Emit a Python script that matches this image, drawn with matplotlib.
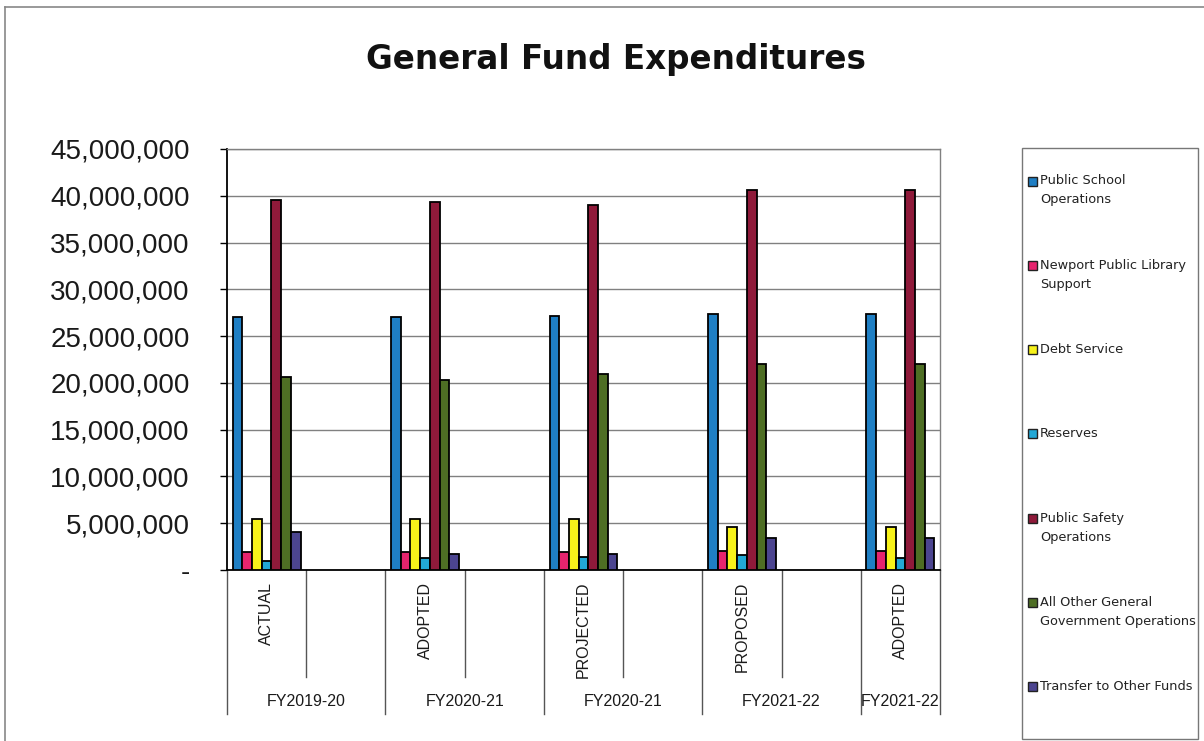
import numpy as np
import matplotlib.pyplot as plt
import matplotlib.transforms as mtransforms
from matplotlib.patches import Rectangle
from matplotlib.lines import Line2D
from matplotlib.ticker import FuncFormatter

# budget stages and fiscal years (last year only has one column)
stages = ["ACTUAL", "ADOPTED", "PROJECTED", "PROPOSED", "ADOPTED"]
years = ["FY2019-20", "FY2020-21", "FY2020-21", "FY2021-22", "FY2021-22"]
year_cols = [2, 2, 2, 2, 1]

series = ["Public School\nOperations",
          "Newport Public Library\nSupport",
          "Debt Service",
          "Reserves",
          "Public Safety\nOperations",
          "All Other General\nGovernment Operations",
          "Transfer to Other Funds"]

school = [27.0e6, 27.05e6, 27.1e6, 27.4e6, 27.4e6]
library = [1.95e6, 1.95e6, 1.97e6, 2.05e6, 2.05e6]
debt = [5.45e6, 5.45e6, 5.47e6, 4.55e6, 4.55e6]
reserves = [0.95e6, 1.25e6, 1.4e6, 1.6e6, 1.3e6]
safety = [39.6e6, 39.35e6, 39.05e6, 40.6e6, 40.6e6]
other_gov = [20.6e6, 20.3e6, 20.9e6, 22.0e6, 22.0e6]
transfers = [4.1e6, 1.7e6, 1.7e6, 3.4e6, 3.4e6]

values = [school, library, debt, reserves, safety, other_gov, transfers]
colors = ["#1f7fc4", "#e6246e", "#f7f21a", "#22a8d6", "#8f1a3a", "#4e6e24", "#4c4590"]

W, H = 1204, 741
fig = plt.figure(figsize=(W / 100, H / 100), dpi=100)
fig.patch.set_facecolor("white")

def fx(px):
    return px / W

def fy(py):
    return 1 - py / H

ax = fig.add_axes([fx(227), fy(570), fx(940) - fx(227), fy(149) - fy(570)])

# each stage sits in its own slot, followed by an empty slot
pos = []
p = 0
for n in year_cols:
    pos.append(p)
    p += n
pos = np.array(pos)
nslots = p

bw = 0.1225
for i, (vals, c) in enumerate(zip(values, colors)):
    ax.bar(pos + (i - 3) * bw, vals, width=bw, color=c, edgecolor="black", linewidth=1.3, zorder=3)

ax.set_xlim(-0.5, nslots - 0.5)
ax.set_ylim(0, 45e6)
ax.set_yticks(np.arange(0, 45e6 + 1, 5e6))
ax.yaxis.set_major_formatter(FuncFormatter(lambda v, _: "-" if v == 0 else f"{v:,.0f}"))
ax.tick_params(axis="y", length=5, width=1, direction="out", pad=22, labelsize=20)
for lab in ax.get_yticklabels():
    lab.set_fontfamily("Liberation Sans")
    lab.set_color("#1a1a1a")
ax.set_xticks([])
ax.grid(axis="y", color="#808080", linewidth=1, zorder=0)
ax.set_axisbelow(True)
ax.spines["left"].set_color("black")
ax.spines["left"].set_linewidth(1.3)
ax.spines["bottom"].set_color("black")
ax.spines["bottom"].set_linewidth(1.3)
for s in ["top", "right"]:
    ax.spines[s].set_color("#808080")
    ax.spines[s].set_linewidth(1)

# two-level category axis
tr = mtransforms.blended_transform_factory(ax.transData, ax.transAxes)
inner_y = (570 - 677) / 421
outer_y = (570 - 714) / 421
for start, n in zip(pos, year_cols):
    ax.add_line(Line2D([start - 0.5] * 2, [0, outer_y], transform=tr, color="#555555", lw=1, clip_on=False))
    if n == 2:
        ax.add_line(Line2D([start + 0.5] * 2, [0, inner_y], transform=tr, color="#555555", lw=1, clip_on=False))
ax.add_line(Line2D([nslots - 0.5] * 2, [0, outer_y], transform=tr, color="#555555", lw=1, clip_on=False))

for start, n, stage, yr in zip(pos, year_cols, stages, years):
    ax.text(start, (570 - 582) / 421, stage, transform=tr, rotation=90, ha="center", va="top",
            fontsize=11.5, family="Liberation Sans", color="#1a1a1a")
    ax.text(start + (n - 1) / 2, (570 - 702) / 421, yr, transform=tr, ha="center", va="center",
            fontsize=11.5, family="Liberation Sans", color="#1a1a1a")

fig.text(fx(615.5), fy(69), "General Fund Expenditures", ha="center", va="baseline",
         fontsize=23.5, fontweight="bold", family="DejaVu Sans", color="#111111")

# legend box drawn at the right edge
fig.add_artist(Rectangle((fx(1022), fy(739)), fx(1198) - fx(1022), fy(148) - fy(739),
                         transform=fig.transFigure, fill=False, edgecolor="#777777", lw=1))
for i, (name, c) in enumerate(zip(series, colors)):
    yc = 181 + i * 84.3
    fig.add_artist(Rectangle((fx(1028), fy(yc + 4.5)), fx(9), 9 / H, transform=fig.transFigure,
                             facecolor=c, edgecolor="#222222", lw=1))
    for k, line in enumerate(name.split("\n")):
        fig.text(fx(1040), fy(yc + k * 19), line, ha="left", va="center",
                 fontsize=9.3, family="DejaVu Sans", color="#222222")

# outer chart border (left and top edges)
fig.add_artist(Line2D([fx(5), fx(5)], [fy(741), fy(7)], transform=fig.transFigure, color="#888888", lw=1.2))
fig.add_artist(Line2D([fx(5), fx(1204)], [fy(7), fy(7)], transform=fig.transFigure, color="#888888", lw=1.2))

fig.savefig("out.png", dpi=100)
